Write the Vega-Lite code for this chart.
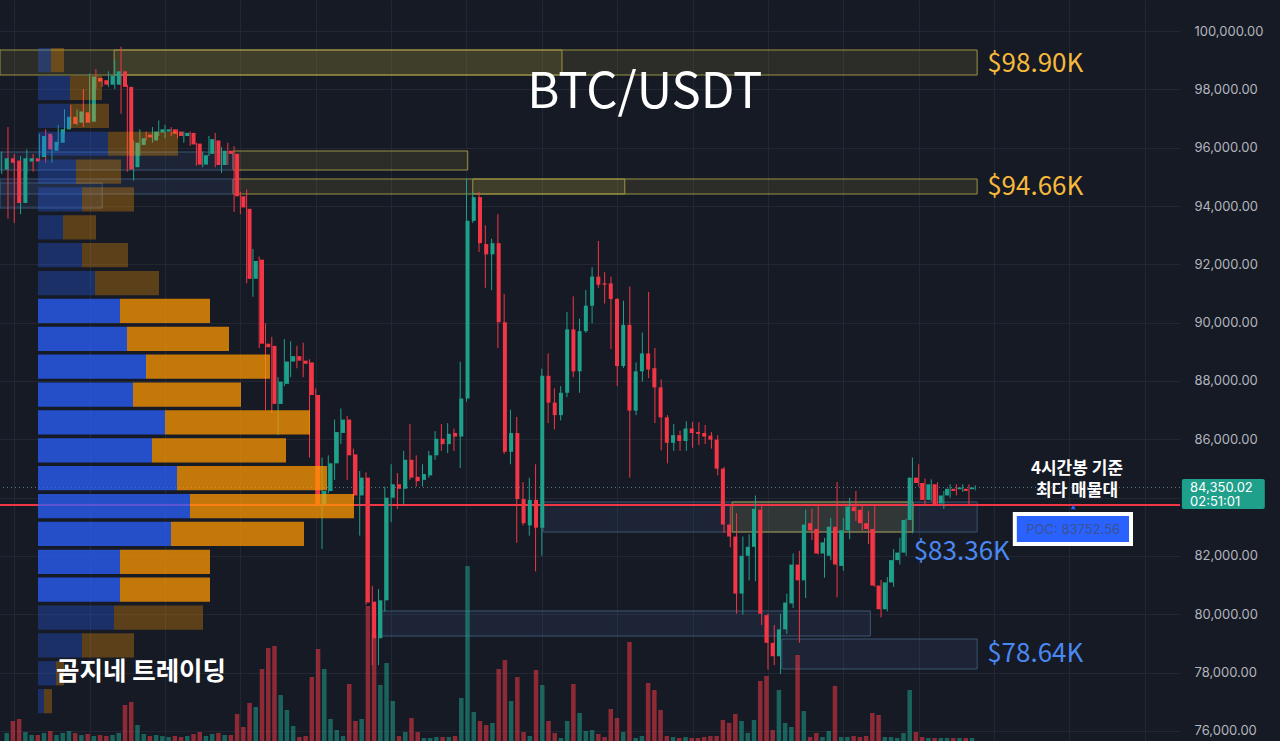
{
"$schema": "https://vega.github.io/schema/vega-lite/v6.json",
"width": 1180, "height": 741,
"autosize": {"type": "none"},
"padding": {"left": 0, "top": 0, "right": 100, "bottom": 0},
"background": "#161a25",
"config": {"view": {"stroke": null}, "axis": {"title": null}},
"datasets": {
"zones": [
{"a":-0.27,"b":89.2,"p1":99349,"p2":98491,"t":"res"},
{"a":17.9,"b":155.3,"p1":99349,"p2":98491,"t":"res"},
{"a":36.8,"b":74.2,"p1":95886,"p2":95234,"t":"res"},
{"a":36.8,"b":155.3,"p1":94926,"p2":94411,"t":"res"},
{"a":75.0,"b":99.2,"p1":94926,"p2":94411,"t":"res"},
{"a":-0.27,"b":36.8,"p1":95851,"p2":95234,"t":"sup"},
{"a":-0.27,"b":36.8,"p1":94926,"p2":94411,"t":"sup"},
{"a":-0.27,"b":16.0,"p1":94789,"p2":93931,"t":"sup"},
{"a":86.2,"b":155.3,"p1":83851,"p2":82823,"t":"sup"},
{"a":116.3,"b":145.1,"p1":83851,"p2":82823,"t":"res"},
{"a":124.2,"b":155.3,"p1":79154,"p2":78126,"t":"sup"},
{"a":60.2,"b":138.3,"p1":80114,"p2":79257,"t":"sup"}
],
"profile": [
{"hi":99417,"lo":98587,"b0":0,"buy":130,"tot":260,"va":false},
{"hi":98461,"lo":97631,"b0":0,"buy":320,"tot":640,"va":false},
{"hi":97506,"lo":96676,"b0":0,"buy":320,"tot":710,"va":false},
{"hi":96550,"lo":95720,"b0":0,"buy":700,"tot":1400,"va":false},
{"hi":95595,"lo":94765,"b0":0,"buy":380,"tot":830,"va":false},
{"hi":94639,"lo":93809,"b0":0,"buy":440,"tot":960,"va":false},
{"hi":93683,"lo":92853,"b0":0,"buy":250,"tot":580,"va":false},
{"hi":92728,"lo":91898,"b0":0,"buy":440,"tot":900,"va":false},
{"hi":91772,"lo":90942,"b0":0,"buy":570,"tot":1210,"va":false},
{"hi":90817,"lo":89987,"b0":0,"buy":820,"tot":1720,"va":true},
{"hi":89861,"lo":89031,"b0":0,"buy":890,"tot":1910,"va":true},
{"hi":88905,"lo":88075,"b0":0,"buy":1080,"tot":2320,"va":true},
{"hi":87950,"lo":87120,"b0":0,"buy":950,"tot":2030,"va":true},
{"hi":86994,"lo":86164,"b0":0,"buy":1270,"tot":2720,"va":true},
{"hi":86039,"lo":85209,"b0":0,"buy":1140,"tot":2480,"va":true},
{"hi":85083,"lo":84253,"b0":0,"buy":1390,"tot":2890,"va":true},
{"hi":84127,"lo":83297,"b0":0,"buy":1520,"tot":3160,"va":true},
{"hi":83172,"lo":82342,"b0":0,"buy":1330,"tot":2660,"va":true},
{"hi":82216,"lo":81386,"b0":0,"buy":820,"tot":1720,"va":true},
{"hi":81261,"lo":80431,"b0":0,"buy":820,"tot":1720,"va":true},
{"hi":80305,"lo":79475,"b0":0,"buy":760,"tot":1650,"va":false},
{"hi":79349,"lo":78519,"b0":0,"buy":440,"tot":960,"va":false},
{"hi":78394,"lo":77564,"b0":0,"buy":180,"tot":260,"va":false},
{"hi":77438,"lo":76608,"b0":0,"buy":60,"tot":140,"va":false}
],
"candles": [
{"i":0,"o":95252,"h":95864,"l":95099,"c":95635,"v":800},
{"i":1,"o":95635,"h":96706,"l":93567,"c":95482,"v":2000},
{"i":2,"o":95558,"h":95788,"l":93414,"c":94104,"v":2200},
{"i":3,"o":94104,"h":95711,"l":93720,"c":95635,"v":900},
{"i":4,"o":95527,"h":95941,"l":95098,"c":95635,"v":600},
{"i":5,"o":95635,"h":95788,"l":95175,"c":95527,"v":600},
{"i":6,"o":95681,"h":96476,"l":95635,"c":96400,"v":800},
{"i":7,"o":96476,"h":96629,"l":95482,"c":95941,"v":1000},
{"i":8,"o":95895,"h":96400,"l":95482,"c":96201,"v":600},
{"i":9,"o":96170,"h":96782,"l":96094,"c":96629,"v":800},
{"i":10,"o":96629,"h":97318,"l":96476,"c":97058,"v":1000},
{"i":11,"o":97058,"h":97471,"l":96706,"c":96813,"v":800},
{"i":12,"o":96859,"h":97318,"l":96782,"c":97242,"v":600},
{"i":13,"o":97211,"h":98007,"l":96706,"c":96859,"v":700},
{"i":14,"o":96890,"h":98543,"l":96859,"c":98436,"v":500},
{"i":15,"o":98390,"h":98696,"l":98007,"c":98267,"v":600},
{"i":16,"o":98313,"h":98390,"l":98084,"c":98160,"v":500},
{"i":17,"o":98160,"h":98619,"l":98084,"c":98466,"v":600},
{"i":18,"o":98160,"h":99002,"l":98007,"c":98619,"v":800},
{"i":19,"o":98619,"h":99461,"l":97165,"c":98084,"v":3600},
{"i":20,"o":98084,"h":98160,"l":95175,"c":95252,"v":3900},
{"i":21,"o":95329,"h":96247,"l":94869,"c":96170,"v":1600},
{"i":22,"o":96094,"h":96629,"l":95711,"c":96323,"v":700},
{"i":23,"o":96446,"h":96553,"l":96247,"c":96354,"v":500},
{"i":24,"o":96247,"h":96706,"l":96170,"c":96553,"v":600},
{"i":25,"o":96522,"h":96935,"l":96400,"c":96629,"v":500},
{"i":26,"o":96553,"h":96782,"l":96323,"c":96629,"v":400},
{"i":27,"o":96629,"h":96706,"l":96400,"c":96476,"v":500},
{"i":28,"o":96553,"h":96629,"l":96323,"c":96400,"v":400},
{"i":29,"o":96400,"h":96553,"l":96170,"c":96507,"v":500},
{"i":30,"o":96507,"h":96553,"l":96060,"c":96110,"v":700},
{"i":31,"o":96140,"h":96170,"l":95380,"c":95420,"v":900},
{"i":32,"o":95420,"h":95864,"l":95329,"c":95742,"v":500},
{"i":33,"o":95788,"h":96400,"l":95711,"c":96293,"v":700},
{"i":34,"o":96247,"h":96507,"l":95329,"c":95405,"v":800},
{"i":35,"o":95405,"h":96017,"l":95130,"c":95895,"v":600},
{"i":36,"o":95895,"h":96170,"l":95405,"c":95788,"v":600},
{"i":37,"o":95788,"h":96048,"l":93797,"c":94334,"v":2700},
{"i":38,"o":94334,"h":94487,"l":93720,"c":93950,"v":1400},
{"i":39,"o":93904,"h":94564,"l":91349,"c":91502,"v":3800},
{"i":40,"o":91502,"h":92528,"l":90889,"c":92113,"v":3400},
{"i":41,"o":92159,"h":92267,"l":89127,"c":89280,"v":7200},
{"i":42,"o":89280,"h":89982,"l":86987,"c":89158,"v":9300},
{"i":43,"o":89204,"h":89513,"l":86909,"c":87214,"v":9500},
{"i":44,"o":87214,"h":88132,"l":86145,"c":87979,"v":4600},
{"i":45,"o":87903,"h":89435,"l":87826,"c":88668,"v":3100},
{"i":46,"o":88668,"h":89359,"l":88132,"c":88852,"v":1500},
{"i":47,"o":88852,"h":89205,"l":88437,"c":88698,"v":400},
{"i":48,"o":88698,"h":89311,"l":88132,"c":88591,"v":500},
{"i":49,"o":88637,"h":88744,"l":85376,"c":87520,"v":6400},
{"i":50,"o":87520,"h":87749,"l":83693,"c":83769,"v":9200},
{"i":51,"o":83769,"h":85376,"l":82238,"c":84228,"v":7200},
{"i":52,"o":84228,"h":85452,"l":84151,"c":85177,"v":2200},
{"i":53,"o":85177,"h":86678,"l":84610,"c":86249,"v":1100},
{"i":54,"o":86219,"h":87060,"l":85835,"c":86678,"v":500},
{"i":55,"o":86678,"h":86800,"l":84610,"c":85452,"v":5700},
{"i":56,"o":85483,"h":85682,"l":83922,"c":84075,"v":2000},
{"i":57,"o":84075,"h":84916,"l":82697,"c":84687,"v":2200},
{"i":58,"o":84687,"h":84870,"l":80328,"c":80405,"v":13500},
{"i":59,"o":80435,"h":80978,"l":78257,"c":79180,"v":10700},
{"i":60,"o":79180,"h":80864,"l":78257,"c":80481,"v":5600},
{"i":61,"o":80481,"h":84381,"l":80099,"c":83999,"v":7800},
{"i":62,"o":83999,"h":85146,"l":83157,"c":84458,"v":4000},
{"i":63,"o":84458,"h":84840,"l":83616,"c":84305,"v":500},
{"i":64,"o":84305,"h":85605,"l":83769,"c":85299,"v":900},
{"i":65,"o":85299,"h":86525,"l":84610,"c":84687,"v":2300},
{"i":66,"o":84717,"h":85452,"l":84381,"c":84564,"v":900},
{"i":67,"o":84610,"h":85146,"l":84381,"c":84810,"v":300},
{"i":68,"o":84763,"h":85605,"l":84687,"c":85452,"v":300},
{"i":69,"o":85452,"h":86280,"l":85299,"c":86019,"v":400},
{"i":70,"o":86019,"h":86525,"l":85605,"c":85835,"v":400},
{"i":71,"o":85835,"h":86555,"l":85528,"c":86188,"v":400},
{"i":72,"o":86219,"h":86372,"l":85605,"c":86096,"v":500},
{"i":73,"o":86096,"h":88661,"l":85014,"c":87397,"v":4300},
{"i":74,"o":87397,"h":94947,"l":87290,"c":93491,"v":17500},
{"i":75,"o":93491,"h":94487,"l":93420,"c":94303,"v":2900},
{"i":76,"o":94303,"h":94487,"l":92420,"c":92726,"v":2000},
{"i":77,"o":92696,"h":93338,"l":91196,"c":92343,"v":1600},
{"i":78,"o":92343,"h":92879,"l":91119,"c":92726,"v":1800},
{"i":79,"o":92726,"h":93720,"l":89129,"c":90016,"v":7200},
{"i":80,"o":90016,"h":90985,"l":85500,"c":85575,"v":8100},
{"i":81,"o":85575,"h":87014,"l":85146,"c":86218,"v":4000},
{"i":82,"o":86218,"h":86770,"l":82452,"c":83952,"v":6400},
{"i":83,"o":83952,"h":84533,"l":83048,"c":83125,"v":900},
{"i":84,"o":83049,"h":84687,"l":82697,"c":83922,"v":500},
{"i":85,"o":83922,"h":85146,"l":81472,"c":82972,"v":7100},
{"i":86,"o":82972,"h":88423,"l":82008,"c":88178,"v":5600},
{"i":87,"o":88178,"h":88944,"l":86555,"c":87259,"v":2000},
{"i":88,"o":87259,"h":87749,"l":86341,"c":86830,"v":800},
{"i":89,"o":86830,"h":87826,"l":86647,"c":87596,"v":300},
{"i":90,"o":87596,"h":90367,"l":87443,"c":89770,"v":2000},
{"i":91,"o":89770,"h":90903,"l":88131,"c":88331,"v":5700},
{"i":92,"o":88331,"h":90138,"l":87597,"c":89709,"v":2800},
{"i":93,"o":89709,"h":91119,"l":89650,"c":90582,"v":1000},
{"i":94,"o":90582,"h":91901,"l":89977,"c":91579,"v":1100},
{"i":95,"o":91579,"h":92802,"l":91196,"c":91302,"v":700},
{"i":96,"o":91348,"h":91732,"l":90658,"c":91302,"v":400},
{"i":97,"o":91348,"h":91579,"l":89096,"c":90812,"v":3200},
{"i":98,"o":90812,"h":90850,"l":87826,"c":88515,"v":2300},
{"i":99,"o":88515,"h":90750,"l":88450,"c":89923,"v":900},
{"i":100,"o":89923,"h":91241,"l":84687,"c":86983,"v":9900},
{"i":101,"o":86983,"h":88638,"l":86830,"c":88331,"v":300},
{"i":102,"o":88331,"h":89663,"l":87979,"c":88944,"v":500},
{"i":103,"o":88944,"h":91057,"l":88100,"c":88392,"v":5800},
{"i":104,"o":88438,"h":89128,"l":86555,"c":87780,"v":5100},
{"i":105,"o":87780,"h":88055,"l":85621,"c":86754,"v":3100},
{"i":106,"o":86754,"h":86830,"l":85177,"c":85881,"v":500},
{"i":107,"o":85881,"h":86524,"l":85605,"c":86142,"v":400},
{"i":108,"o":86142,"h":86295,"l":85605,"c":85942,"v":300},
{"i":109,"o":85942,"h":86616,"l":85605,"c":86371,"v":400},
{"i":110,"o":86371,"h":86601,"l":85712,"c":86218,"v":300},
{"i":111,"o":86249,"h":86585,"l":85805,"c":86188,"v":300},
{"i":112,"o":86218,"h":86493,"l":85835,"c":86096,"v":400},
{"i":113,"o":86127,"h":86249,"l":85682,"c":85989,"v":500},
{"i":114,"o":85989,"h":86142,"l":84763,"c":84994,"v":500},
{"i":115,"o":84994,"h":85055,"l":82789,"c":83079,"v":2100},
{"i":116,"o":83079,"h":83769,"l":82299,"c":82667,"v":1800},
{"i":117,"o":82667,"h":83463,"l":80022,"c":80711,"v":2700},
{"i":118,"o":80711,"h":82667,"l":79988,"c":82008,"v":2000},
{"i":119,"o":82008,"h":82744,"l":81165,"c":82314,"v":800},
{"i":120,"o":82314,"h":84075,"l":81135,"c":83616,"v":2100},
{"i":121,"o":83585,"h":83769,"l":79636,"c":80022,"v":6000},
{"i":122,"o":79972,"h":80022,"l":78104,"c":79023,"v":6500},
{"i":123,"o":79023,"h":79636,"l":78257,"c":78563,"v":1100},
{"i":124,"o":78563,"h":80022,"l":77950,"c":79483,"v":5100},
{"i":125,"o":79483,"h":80711,"l":79330,"c":80405,"v":1800},
{"i":126,"o":80374,"h":82085,"l":80221,"c":81706,"v":1400},
{"i":127,"o":81706,"h":82176,"l":79022,"c":81165,"v":8600},
{"i":128,"o":81165,"h":83585,"l":80558,"c":83079,"v":3000},
{"i":129,"o":83125,"h":83616,"l":82544,"c":82881,"v":400},
{"i":130,"o":82927,"h":83769,"l":82050,"c":82085,"v":800},
{"i":131,"o":82085,"h":82621,"l":81257,"c":82468,"v":400},
{"i":132,"o":82008,"h":83309,"l":81855,"c":83003,"v":1000},
{"i":133,"o":83003,"h":84533,"l":80588,"c":81706,"v":5500},
{"i":134,"o":81660,"h":83309,"l":81492,"c":82881,"v":400},
{"i":135,"o":82881,"h":83999,"l":82575,"c":83693,"v":400},
{"i":136,"o":83693,"h":84227,"l":83202,"c":83539,"v":500},
{"i":137,"o":83585,"h":83769,"l":82866,"c":83125,"v":400},
{"i":138,"o":83125,"h":83539,"l":82406,"c":82927,"v":500},
{"i":139,"o":82927,"h":83769,"l":80944,"c":80986,"v":2800},
{"i":140,"o":80986,"h":81177,"l":79895,"c":80175,"v":2600},
{"i":141,"o":80175,"h":81278,"l":80099,"c":81094,"v":400},
{"i":142,"o":81094,"h":82238,"l":80941,"c":81859,"v":400},
{"i":143,"o":81859,"h":82621,"l":81706,"c":82116,"v":300},
{"i":144,"o":82116,"h":83280,"l":82008,"c":83233,"v":800},
{"i":145,"o":83233,"h":85376,"l":82774,"c":84687,"v":5100},
{"i":146,"o":84687,"h":85146,"l":84381,"c":84503,"v":900},
{"i":147,"o":84503,"h":84657,"l":83769,"c":83922,"v":400},
{"i":148,"o":83922,"h":84627,"l":83880,"c":84458,"v":300},
{"i":149,"o":84458,"h":84533,"l":83740,"c":83769,"v":300},
{"i":150,"o":83800,"h":84229,"l":83616,"c":84075,"v":300},
{"i":151,"o":84075,"h":84458,"l":84000,"c":84305,"v":300},
{"i":152,"o":84305,"h":84458,"l":84075,"c":84228,"v":300},
{"i":153,"o":84290,"h":84458,"l":84200,"c":84350,"v":300},
{"i":154,"o":84305,"h":84458,"l":83769,"c":84228,"v":300},
{"i":155,"o":84290,"h":84420,"l":84250,"c":84350.02,"v":300}
]
},
"layer": [
{
"data": {"name": "zones"},
"mark": {"type": "rect", "strokeWidth": 1},
"encoding": {
"x": {"field": "a", "type": "quantitative", "scale": {"domain": [-0.27, 187.6], "nice": false, "zero": false},
 "axis": {"orient": "bottom", "values": [2,14,26,38,50,62,74,86,98,110,122,134,146,158,170,182], "grid": true, "gridColor": "#232734", "gridWidth": 1, "labels": false, "ticks": false, "domain": false}},
"x2": {"field": "b"},
"y": {"field": "p1", "type": "quantitative", "scale": {"domain": [75657, 101063], "nice": false, "zero": false},
 "axis": {"orient": "right", "values": [76000,78000,80000,82000,84000,86000,88000,90000,92000,94000,96000,98000,100000], "format": ",.2f", "labelExpr": "datum.value == 84000 ? '' : datum.label", "grid": true, "gridColor": "#232734", "gridWidth": 1, "ticks": false, "domain": false, "labelColor": "#b2b5be", "labelFont": "Inter", "labelFontSize": 13, "labelPadding": 14, "labelAlign": "left", "labelBaseline": "middle", "labelOverlap": false}},
"y2": {"field": "p2"},
"fill": {"field": "t", "type": "nominal", "scale": {"domain": ["res", "sup"], "range": ["rgba(190,180,60,0.13)", "rgba(70,110,170,0.13)"]}, "legend": null},
"stroke": {"field": "t", "type": "nominal", "scale": {"domain": ["res", "sup"], "range": ["#9a9343", "#3b5574"]}, "legend": null}
}
},
{
"data": {"values": [{"p": 84350.02}]},
"mark": {"type": "rule", "color": "#5a7f86", "strokeDash": [1, 3], "strokeWidth": 1},
"encoding": {"y": {"field": "p", "type": "quantitative", "scale": {"domain": [75657, 101063], "nice": false, "zero": false}, "axis": null}}
},
{
"data": {"values": [{"p": 83752.56}]},
"mark": {"type": "rule", "color": "#f23645", "strokeWidth": 2},
"encoding": {"y": {"field": "p", "type": "quantitative", "scale": {"domain": [75657, 101063], "nice": false, "zero": false}, "axis": null}}
},
{
"data": {"name": "candles"},
"mark": {"type": "bar", "width": 4.5, "opacity": 0.55},
"encoding": {
"x": {"field": "i", "type": "quantitative", "scale": {"domain": [-0.27, 187.6], "nice": false, "zero": false}, "axis": null},
"y": {"field": "v", "type": "quantitative", "scale": {"domain": [0, 74100], "nice": false}, "axis": null},
"color": {"condition": {"test": "datum.c >= datum.o", "value": "#1fa08b"}, "value": "#f23645"}
}
},
{
"data": {"name": "candles"},
"mark": {"type": "rule", "strokeWidth": 1},
"encoding": {
"x": {"field": "i", "type": "quantitative", "scale": {"domain": [-0.27, 187.6], "nice": false, "zero": false}, "axis": null},
"y": {"field": "l", "type": "quantitative", "scale": {"domain": [75657, 101063], "nice": false, "zero": false}, "axis": null},
"y2": {"field": "h"},
"color": {"condition": {"test": "datum.c >= datum.o", "value": "#1fa08b"}, "value": "#f23645"}
}
},
{
"data": {"name": "candles"},
"mark": {"type": "bar", "width": 4},
"encoding": {
"x": {"field": "i", "type": "quantitative", "scale": {"domain": [-0.27, 187.6], "nice": false, "zero": false}, "axis": null},
"y": {"field": "o", "type": "quantitative", "scale": {"domain": [75657, 101063], "nice": false, "zero": false}, "axis": null},
"y2": {"field": "c"},
"color": {"condition": {"test": "datum.c >= datum.o", "value": "#1fa08b"}, "value": "#f23645"}
}
},
{
"data": {"name": "profile"},
"mark": {"type": "rect", "fill": "#2962ff"},
"encoding": {
"x": {"field": "b0", "type": "quantitative", "scale": {"domain": [-380, 11420], "nice": false, "zero": false}, "axis": null},
"x2": {"field": "buy"},
"y": {"field": "hi", "type": "quantitative", "scale": {"domain": [75657, 101063], "nice": false, "zero": false}, "axis": null},
"y2": {"field": "lo"},
"opacity": {"condition": {"test": "datum.va", "value": 0.75}, "value": 0.3}
}
},
{
"data": {"name": "profile"},
"mark": {"type": "rect", "fill": "#ff9800"},
"encoding": {
"x": {"field": "buy", "type": "quantitative", "scale": {"domain": [-380, 11420], "nice": false, "zero": false}, "axis": null},
"x2": {"field": "tot"},
"y": {"field": "hi", "type": "quantitative", "scale": {"domain": [75657, 101063], "nice": false, "zero": false}, "axis": null},
"y2": {"field": "lo"},
"opacity": {"condition": {"test": "datum.va", "value": 0.75}, "value": 0.3}
}
},
{
"data": {"values": [{"a": 161.3, "b": 179.8, "p1": 83440, "p2": 82411}]},
"mark": {"type": "rect", "fill": "#2962ff", "stroke": "#ffffff", "strokeWidth": 4},
"encoding": {
"x": {"field": "a", "type": "quantitative", "scale": {"domain": [-0.27, 187.6], "nice": false, "zero": false}, "axis": null},
"x2": {"field": "b"},
"y": {"field": "p1", "type": "quantitative", "scale": {"domain": [75657, 101063], "nice": false, "zero": false}, "axis": null},
"y2": {"field": "p2"}
}
},
{
"data": {"values": [{"a": 187.9, "b": 201.1, "p1": 84640, "p2": 83611}]},
"mark": {"type": "rect", "fill": "#1fa08b", "cornerRadius": 2},
"encoding": {
"x": {"field": "a", "type": "quantitative", "scale": {"domain": [-0.27, 187.6], "nice": false, "zero": false}, "axis": null},
"x2": {"field": "b"},
"y": {"field": "p1", "type": "quantitative", "scale": {"domain": [75657, 101063], "nice": false, "zero": false}, "axis": null},
"y2": {"field": "p2"}
}
},
{
"data": {"values": [{"i": 170.6, "p": 83680}]},
"mark": {"type": "point", "shape": "triangle-up", "size": 25, "filled": true, "color": "#2962ff", "opacity": 1},
"encoding": {
"x": {"field": "i", "type": "quantitative", "scale": {"domain": [-0.27, 187.6], "nice": false, "zero": false}, "axis": null},
"y": {"field": "p", "type": "quantitative", "scale": {"domain": [75657, 101063], "nice": false, "zero": false}, "axis": null}
}
},
{
"data": {"values": [{"t": "POC: 83752.56", "i": 170.6, "p": 82891}]},
"mark": {"type": "text", "align": "center", "baseline": "middle", "font": "Inter", "fontSize": 13, "color": "#3a5290"},
"encoding": {
"x": {"field": "i", "type": "quantitative", "scale": {"domain": [-0.27, 187.6], "nice": false, "zero": false}, "axis": null},
"y": {"field": "p", "type": "quantitative", "scale": {"domain": [75657, 101063], "nice": false, "zero": false}, "axis": null},
"text": {"field": "t"}
}
},
{
"data": {"values": [{"t": ["84,350.02", "02:51:01"], "i": 189.2, "p": 84332}]},
"mark": {"type": "text", "align": "left", "baseline": "middle", "font": "Inter", "fontSize": 13, "lineHeight": 14, "color": "#ffffff"},
"encoding": {
"x": {"field": "i", "type": "quantitative", "scale": {"domain": [-0.27, 187.6], "nice": false, "zero": false}, "axis": null},
"y": {"field": "p", "type": "quantitative", "scale": {"domain": [75657, 101063], "nice": false, "zero": false}, "axis": null},
"text": {"field": "t"}
}
},
{
"data": {"values": [{"t": "BTC/USDT", "i": 102.4, "p": 97360}]},
"mark": {"type": "text", "align": "center", "baseline": "alphabetic", "font": "Noto Sans CJK KR", "fontSize": 49, "color": "#ffffff"},
"encoding": {
"x": {"field": "i", "type": "quantitative", "scale": {"domain": [-0.27, 187.6], "nice": false, "zero": false}, "axis": null},
"y": {"field": "p", "type": "quantitative", "scale": {"domain": [75657, 101063], "nice": false, "zero": false}, "axis": null},
"text": {"field": "t"}
}
},
{
"data": {"values": [{"t": "$98.90K", "i": 156.9, "p": 98594}, {"t": "$94.66K", "i": 156.9, "p": 94377}]},
"mark": {"type": "text", "align": "left", "baseline": "alphabetic", "font": "Noto Sans CJK KR", "fontSize": 26, "color": "#f6b93b"},
"encoding": {
"x": {"field": "i", "type": "quantitative", "scale": {"domain": [-0.27, 187.6], "nice": false, "zero": false}, "axis": null},
"y": {"field": "p", "type": "quantitative", "scale": {"domain": [75657, 101063], "nice": false, "zero": false}, "axis": null},
"text": {"field": "t"}
}
},
{
"data": {"values": [{"t": "$83.36K", "i": 145.2, "p": 81863}, {"t": "$78.64K", "i": 156.9, "p": 78366}]},
"mark": {"type": "text", "align": "left", "baseline": "alphabetic", "font": "Noto Sans CJK KR", "fontSize": 26, "color": "#4a88f2"},
"encoding": {
"x": {"field": "i", "type": "quantitative", "scale": {"domain": [-0.27, 187.6], "nice": false, "zero": false}, "axis": null},
"y": {"field": "p", "type": "quantitative", "scale": {"domain": [75657, 101063], "nice": false, "zero": false}, "axis": null},
"text": {"field": "t"}
}
},
{
"data": {"values": [{"t": ["4시간봉 기준", "최다 매물대"], "i": 171.2, "p": 84980}]},
"mark": {"type": "text", "align": "center", "baseline": "middle", "font": "Noto Sans CJK KR", "fontSize": 17, "lineHeight": 22, "fontWeight": "bold", "color": "#ffffff"},
"encoding": {
"x": {"field": "i", "type": "quantitative", "scale": {"domain": [-0.27, 187.6], "nice": false, "zero": false}, "axis": null},
"y": {"field": "p", "type": "quantitative", "scale": {"domain": [75657, 101063], "nice": false, "zero": false}, "axis": null},
"text": {"field": "t"}
}
},
{
"data": {"values": [{"t": "곰지네 트레이딩", "i": 8.65, "p": 78023}]},
"mark": {"type": "text", "align": "left", "baseline": "middle", "font": "Noto Sans CJK KR", "fontSize": 25.5, "fontWeight": "bold", "color": "#ffffff"},
"encoding": {
"x": {"field": "i", "type": "quantitative", "scale": {"domain": [-0.27, 187.6], "nice": false, "zero": false}, "axis": null},
"y": {"field": "p", "type": "quantitative", "scale": {"domain": [75657, 101063], "nice": false, "zero": false}, "axis": null},
"text": {"field": "t"}
}
}
],
"resolve": {"scale": {"x": "independent", "y": "independent"}}
}
